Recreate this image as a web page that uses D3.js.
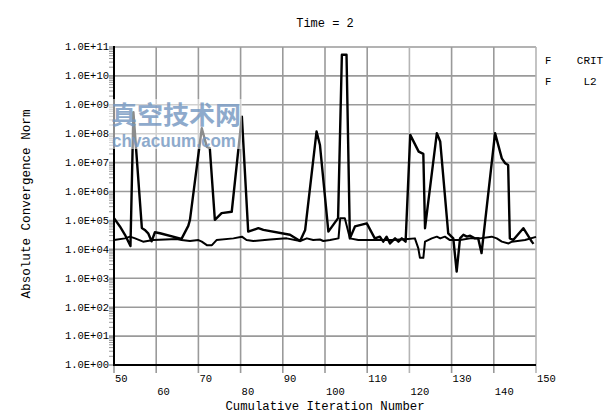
<!DOCTYPE html>
<html><head><meta charset="utf-8">
<script src="https://cdn.jsdelivr.net/npm/d3@7/dist/d3.min.js"></script>
<style>body{margin:0;background:#fff}svg{display:block}</style>
</head><body>
<svg id="c" width="615" height="416"></svg>
<script>
const titleText = "Time = 2";
const xTitle = "Cumulative Iteration Number";
const yTitle = "Absolute Convergence Norm";
const xTicksRow1 = [50, 70, 90, 110, 130, 150];
const xTicksRow2 = [60, 80, 100, 120, 140];
const yTickValues = [1e0,1e1,1e2,1e3,1e4,1e5,1e6,1e7,1e8,1e9,1e10,1e11];
const yTickLabels = ["1.0E+00","1.0E+01","1.0E+02","1.0E+03","1.0E+04","1.0E+05","1.0E+06","1.0E+07","1.0E+08","1.0E+09","1.0E+10","1.0E+11"];
const legendNames = ["CRIT", "L2"];
const watermarkCn = "真空技术网";
const watermarkEn = "chvacuum.com";

// series 1 (spiky)
const critIter = [50.0,51.4,52.6,53.9,54.6,56.6,57.3,58.1,58.9,59.7,60.9,66.0,67.6,68.0,70.8,72.0,72.7,73.9,75.5,77.9,80.3,81.8,84.2,85.4,91.7,94.1,95.3,98.0,98.8,100.8,103.1,104.0,105.1,105.9,107.1,109.9,111.8,113.0,113.8,114.6,115.4,116.6,117.4,118.2,119.1,120.2,122.2,123.3,123.7,126.5,127.3,129.2,130.4,131.2,132.0,132.8,133.6,134.4,135.5,136.3,137.1,140.3,141.9,142.7,143.4,143.8,144.6,147.0,149.0,149.4];
const critValue = [1.2e5,6.2e4,3.2e4,1.3e4,5.6e8,5.5e4,4.7e4,3.6e4,1.9e4,3.9e4,3.6e4,2.3e4,6.5e4,1.05e5,1.55e8,3.5e7,3.2e7,1.05e5,1.8e5,2.0e5,3.9e8,4.1e4,5.4e4,4.7e4,3.2e4,1.95e4,4.7e4,1.2e8,4.1e7,4.1e4,1.2e5,5.4e10,5.4e10,2.4e4,6.2e4,7.9e4,2.4e4,2.75e4,1.85e4,2.75e4,1.6e4,2.4e4,1.85e4,2.4e4,1.85e4,9.1e7,2.4e7,2.0e7,5.4e4,1.05e8,5.4e7,3.6e4,2.4e4,1.7e3,2.4e4,3.2e4,2.75e4,2.95e4,2.4e4,2.4e4,7.4e3,1.05e8,1.4e7,9.5e6,8.3e6,2.4e4,2.1e4,5.4e4,1.85e4,1.55e4];

// series 2 (baseline)
const l2Iter = [50.0,52.6,53.8,55.0,56.9,59.3,64.9,66.0,68.0,70.0,70.8,72.0,73.2,74.3,78.3,80.3,81.4,83.0,87.0,90.9,94.1,95.7,97.2,98.8,99.6,101.2,103.2,103.6,104.7,105.9,107.9,111.8,115.8,119.7,121.3,122.1,122.5,123.3,123.7,125.3,126.5,127.3,128.4,129.6,132.0,134.4,136.7,139.5,140.7,141.9,143.5,144.3,147.4,150.0];
const l2Value = [2.1e4,2.4e4,2.75e4,2.4e4,1.85e4,2.1e4,2.3e4,2.1e4,1.95e4,2.1e4,1.85e4,1.4e4,1.4e4,2.1e4,2.4e4,2.75e4,2.1e4,1.95e4,2.2e4,2.4e4,1.95e4,2.4e4,2.1e4,2.2e4,1.95e4,2.1e4,2.4e4,1.2e5,1.2e5,2.4e4,2.1e4,2.1e4,2.1e4,2.3e4,2.4e4,1.1e4,5.1e3,5.1e3,1.85e4,2.4e4,2.75e4,2.4e4,2.75e4,2.1e4,2.1e4,2.4e4,2.4e4,2.75e4,2.4e4,1.85e4,1.6e4,1.85e4,2.1e4,2.7e4];

const svg = d3.select("#c");
const L = 114, R = 536, T = 47, B = 365;
const x = d3.scaleLinear().domain([50, 150]).range([L, R]);
const y = d3.scaleLog().domain([1, 1e11]).range([B, T]);
const mono = "'Liberation Mono', 'DejaVu Sans Mono', monospace";
const grid = "#9a9a9a";

// minor ticks on y
const minor = [];
yTickValues.slice(0, -1).forEach(v => { for (let k = 2; k <= 9; k++) minor.push(v * k); });
svg.append("g").selectAll("line").data(minor).join("line")
  .attr("x1", L - 5).attr("x2", L).attr("y1", d => y(d)).attr("y2", d => y(d))
  .attr("stroke", grid).attr("stroke-width", 1);

// horizontal grid
svg.append("g").selectAll("line").data(yTickValues).join("line")
  .attr("x1", L - 5).attr("x2", R).attr("y1", d => y(d)).attr("y2", d => y(d))
  .attr("stroke", grid).attr("stroke-width", 1.6);

// vertical grid
const allX = xTicksRow1.concat(xTicksRow2);
svg.append("g").selectAll("line").data(allX).join("line")
  .attr("x1", d => x(d)).attr("x2", d => x(d)).attr("y1", T).attr("y2", B + 8)
  .attr("stroke", d => (d === 120 || d === 150) ? "#b5b5b5" : grid).attr("stroke-width", 1.6);

// data lines
const line = d3.line().x(d => x(d[0])).y(d => y(d[1]));
svg.append("path").datum(l2Iter.map((v, i) => [v, l2Value[i]]))
  .attr("d", line).attr("fill", "none").attr("stroke", "#000").attr("stroke-width", 2)
  .attr("stroke-linejoin", "round");
svg.append("path").datum(critIter.map((v, i) => [v, critValue[i]]))
  .attr("d", line).attr("fill", "none").attr("stroke", "#000").attr("stroke-width", 2.4)
  .attr("stroke-linejoin", "round");

// axes lines
svg.append("line").attr("x1", L).attr("x2", L).attr("y1", T - 1).attr("y2", B + 1)
  .attr("stroke", "#000").attr("stroke-width", 2);
svg.append("line").attr("x1", L - 1).attr("x2", R).attr("y1", B).attr("y2", B)
  .attr("stroke", "#000").attr("stroke-width", 2);

// y tick labels
svg.append("g").selectAll("text").data(yTickValues).join("text")
  .attr("x", L - 5).attr("y", d => y(d)).attr("dy", "0.32em")
  .attr("text-anchor", "end").attr("font-family", mono).attr("font-size", 10.5)
  .text((d, i) => yTickLabels[i]);

// x tick labels (staggered)
svg.append("g").selectAll("text").data(xTicksRow1).join("text")
  .attr("x", d => x(d) + 1).attr("y", 382).attr("font-family", mono).attr("font-size", 10.5)
  .text(d => d);
svg.append("g").selectAll("text").data(xTicksRow2).join("text")
  .attr("x", d => x(d) + 1).attr("y", 395).attr("font-family", mono).attr("font-size", 10.5)
  .text(d => d);

// titles
svg.append("text").attr("x", 325).attr("y", 27).attr("text-anchor", "middle")
  .attr("font-family", mono).attr("font-size", 12).text(titleText);
svg.append("text").attr("x", 325).attr("y", 410).attr("text-anchor", "middle")
  .attr("font-family", mono).attr("font-size", 12.3).text(xTitle);
svg.append("text").attr("transform", "translate(30,204) rotate(-90)").attr("text-anchor", "middle")
  .attr("font-family", mono).attr("font-size", 12.6).text(yTitle);

// legend
legendNames.forEach((n, i) => {
  const yy = 64 + i * 21;
  svg.append("text").attr("x", 545).attr("y", yy).attr("font-family", mono).attr("font-size", 10.5).text("F");
  svg.append("text").attr("x", 590).attr("y", yy).attr("text-anchor", "middle")
    .attr("font-family", mono).attr("font-size", 11).text(n);
});

// watermark
svg.append("rect").attr("x", 109).attr("y", 99).attr("width", 133).attr("height", 50)
  .attr("fill", "#fff").attr("opacity", 0.55);
svg.append("text").attr("x", 111).attr("y", 124).attr("textLength", 130).attr("lengthAdjust", "spacingAndGlyphs")
  .attr("font-family", "'Noto Sans CJK SC', sans-serif").attr("font-weight", "bold").attr("font-size", 25)
  .attr("fill", "#7396c0").attr("opacity", 0.8).text(watermarkCn);
svg.append("text").attr("x", 112).attr("y", 147).attr("textLength", 124).attr("lengthAdjust", "spacingAndGlyphs")
  .attr("font-family", "'Liberation Sans', Arial, sans-serif").attr("font-weight", "bold").attr("font-size", 19)
  .attr("fill", "#7396c0").attr("opacity", 0.8).text(watermarkEn);
</script>
</body></html>
